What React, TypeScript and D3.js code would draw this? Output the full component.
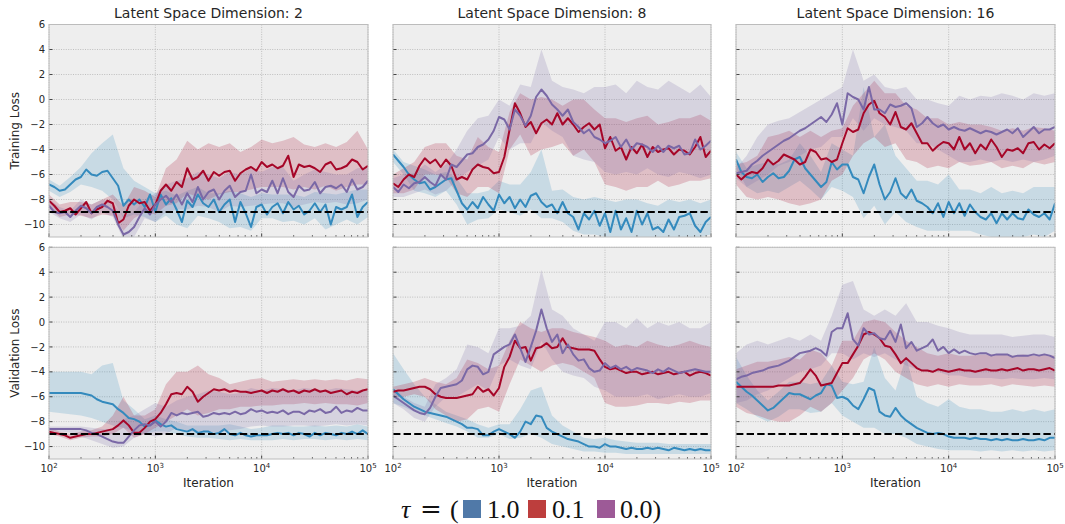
import React from 'react';
import * as d3 from 'd3';

// ---------- x grids (log10 of iteration) ----------
const LOG_ITER = [2.00,2.05,2.10,2.15,2.20,2.25,2.30,2.35,2.40,2.45,2.50,2.55,2.60,2.65,2.70,2.75,2.80,2.85,2.90,2.95,3.00,3.05,3.10,3.15,3.20,3.25,3.30,3.35,3.40,3.45,3.50,3.55,3.60,3.65,3.70,3.75,3.80,3.85,3.90,3.95,4.00,4.05,4.10,4.15,4.20,4.25,4.30,4.35,4.40,4.45,4.50,4.55,4.60,4.65,4.70,4.75,4.80,4.85,4.90,4.95,5.00];
const BAND_LOG_ITER = [2.0,2.1,2.2,2.3,2.4,2.5,2.6,2.7,2.8,2.9,3.0,3.1,3.2,3.3,3.4,3.5,3.6,3.7,3.8,3.9,4.0,4.1,4.2,4.3,4.4,4.5,4.6,4.7,4.8,4.9,5.0];

// ---------- Training loss, latent dim 2 ----------
const TRAIN_D2_T10 = [-6.8,-7.0,-7.3,-7.2,-6.8,-6.4,-6.2,-5.6,-6.0,-6.1,-5.8,-5.7,-6.3,-6.9,-8.5,-8.0,-8.4,-8.0,-8.6,-7.6,-9.0,-7.6,-8.4,-7.9,-8.8,-9.8,-8.1,-8.6,-7.6,-8.3,-8.6,-8.0,-9.0,-8.4,-8.0,-9.8,-8.2,-9.1,-10.2,-8.6,-8.4,-9.2,-8.6,-8.3,-9.1,-8.2,-8.8,-8.5,-9.2,-8.9,-8.3,-9.0,-8.4,-10.0,-8.6,-8.8,-8.6,-7.6,-9.4,-8.6,-8.2];
const TRAIN_D2_T10_LO = [-7.3,-7.8,-7.4,-6.8,-7.0,-7.3,-8.0,-9.5,-9.2,-9.4,-9.8,-9.3,-10.0,-10.3,-9.3,-9.5,-9.8,-10.3,-10.2,-10.5,-9.5,-9.5,-9.8,-9.7,-10.0,-9.5,-10.4,-10.0,-9.6,-10.0,-9.4];
const TRAIN_D2_T10_HI = [-6.4,-6.9,-6.2,-5.4,-4.3,-3.5,-2.8,-5.5,-6.5,-7.0,-7.5,-7.3,-7.7,-7.3,-7.0,-7.5,-7.5,-7.3,-7.5,-7.8,-7.5,-7.6,-7.6,-7.6,-7.8,-7.4,-7.5,-7.6,-7.4,-7.2,-7.2];
const TRAIN_D2_T01 = [-8.1,-8.5,-9.0,-8.9,-8.7,-9.2,-8.7,-8.2,-9.1,-8.8,-8.6,-8.1,-8.3,-9.9,-9.6,-8.5,-8.0,-8.3,-8.2,-8.9,-8.4,-7.3,-6.8,-7.3,-6.6,-7.0,-5.5,-6.4,-6.2,-5.7,-6.5,-5.8,-6.1,-5.8,-5.7,-6.5,-5.9,-5.6,-5.4,-5.7,-5.0,-5.4,-5.2,-5.5,-5.3,-4.5,-6.2,-5.2,-5.4,-5.3,-5.5,-5.8,-5.2,-5.0,-5.6,-5.5,-5.3,-4.8,-5.0,-5.6,-5.3];
const TRAIN_D2_T01_LO = [-8.7,-9.4,-9.2,-9.3,-9.5,-9.2,-9.3,-10.5,-9.5,-9.0,-9.2,-8.5,-8.3,-7.5,-7.8,-8.0,-7.6,-7.4,-7.4,-7.2,-7.0,-7.0,-7.0,-7.2,-7.0,-7.2,-6.9,-7.3,-7.0,-6.8,-6.8];
const TRAIN_D2_T01_HI = [-7.6,-8.4,-8.2,-8.2,-8.4,-8.0,-7.6,-8.5,-7.0,-7.3,-7.8,-5.5,-4.8,-3.3,-4.0,-3.5,-3.8,-3.5,-4.2,-3.8,-3.2,-3.5,-3.3,-3.0,-3.6,-3.8,-3.5,-3.8,-3.4,-2.5,-4.0];
const TRAIN_D2_T00 = [-8.5,-9.0,-9.1,-9.0,-9.4,-8.9,-8.5,-8.7,-9.1,-8.6,-8.4,-8.6,-8.9,-10.0,-10.8,-10.6,-10.2,-9.4,-8.7,-9.2,-8.4,-8.0,-7.7,-8.2,-7.6,-8.4,-7.5,-8.2,-7.0,-8.0,-7.4,-7.2,-8.0,-7.3,-6.9,-7.8,-7.4,-7.3,-6.0,-7.5,-7.2,-7.4,-6.5,-7.5,-6.3,-7.4,-7.8,-6.9,-7.3,-7.2,-6.6,-7.5,-7.0,-6.9,-7.1,-6.8,-7.4,-6.4,-7.2,-7.0,-6.5];
const TRAIN_D2_T00_LO = [-9.0,-9.5,-9.8,-9.2,-9.6,-9.0,-9.4,-11.2,-11.0,-9.5,-9.8,-9.0,-8.8,-8.8,-8.5,-8.6,-9.0,-8.5,-8.6,-8.5,-8.4,-8.3,-8.3,-8.6,-8.4,-8.2,-8.3,-8.2,-8.4,-8.3,-8.0];
const TRAIN_D2_T00_HI = [-8.0,-8.6,-8.9,-8.0,-8.4,-8.0,-8.3,-9.3,-9.0,-8.0,-7.5,-6.8,-6.5,-6.3,-5.8,-6.0,-6.3,-5.8,-6.0,-5.5,-5.8,-5.4,-5.4,-6.5,-6.0,-5.6,-5.8,-6.0,-6.0,-5.5,-5.4];

// ---------- Training loss, latent dim 8 ----------
const TRAIN_D8_T10 = [-4.4,-4.9,-5.4,-6.0,-6.4,-6.7,-6.6,-7.2,-7.0,-6.7,-6.4,-6.3,-7.3,-8.3,-8.8,-8.2,-8.7,-7.8,-8.4,-8.9,-7.6,-8.3,-7.8,-8.7,-8.0,-8.6,-7.7,-7.5,-8.2,-8.6,-8.4,-9.1,-8.2,-9.1,-9.4,-10.4,-9.1,-9.6,-8.9,-10.1,-9.1,-10.6,-8.9,-10.4,-9.5,-10.6,-8.9,-10.0,-9.1,-10.4,-10.2,-10.6,-9.6,-10.4,-9.4,-9.3,-9.1,-10.1,-10.6,-9.8,-9.4];
const TRAIN_D8_T10_LO = [-5.0,-6.0,-7.3,-7.5,-7.8,-7.3,-8.4,-10.0,-9.6,-9.5,-8.8,-9.0,-9.3,-8.8,-9.5,-9.5,-9.8,-10.5,-10.8,-10.8,-11.0,-11.0,-11.0,-11.0,-11.0,-11.0,-11.0,-11.0,-11.0,-11.0,-10.8];
const TRAIN_D8_T10_HI = [-4.0,-5.0,-5.3,-5.6,-6.0,-5.8,-6.3,-7.5,-7.5,-7.3,-6.5,-6.8,-6.8,-5.8,-4.0,-7.3,-7.2,-7.8,-8.0,-7.8,-8.0,-8.2,-8.0,-8.0,-8.3,-8.5,-8.0,-8.2,-8.0,-8.3,-8.0];
const TRAIN_D8_T01 = [-6.7,-7.0,-6.4,-6.0,-6.2,-5.3,-4.7,-5.1,-4.8,-5.4,-4.8,-5.3,-6.4,-6.2,-6.4,-5.6,-5.2,-5.4,-5.5,-5.9,-5.8,-4.6,-2.4,-0.3,-1.1,-2.2,-1.8,-2.7,-1.9,-1.6,-2.0,-1.1,-2.0,-1.5,-2.0,-2.6,-2.2,-1.9,-2.4,-2.0,-3.9,-3.0,-4.1,-3.8,-4.8,-3.8,-4.3,-3.6,-4.6,-3.8,-4.2,-4.0,-3.9,-4.4,-4.0,-4.1,-4.4,-3.8,-3.0,-4.6,-4.1];
const TRAIN_D8_T01_LO = [-7.5,-7.5,-7.2,-6.0,-6.0,-6.2,-7.5,-7.8,-7.0,-7.0,-7.5,-4.0,-2.8,-4.5,-4.0,-3.8,-3.5,-4.5,-4.0,-5.0,-6.8,-7.0,-7.3,-7.0,-7.0,-6.5,-7.0,-6.8,-6.5,-6.5,-6.3];
const TRAIN_D8_T01_HI = [-6.0,-5.5,-5.0,-3.8,-3.5,-3.5,-4.5,-4.8,-3.0,-3.8,-4.2,-1.0,0.5,0.0,0.2,0.0,-0.5,0.0,0.0,-0.8,-1.5,-1.5,-1.8,-1.5,-1.3,-2.0,-1.8,-1.5,-1.5,-1.2,-1.7];
const TRAIN_D8_T00 = [-7.0,-7.4,-6.8,-7.1,-6.7,-6.6,-6.2,-6.6,-6.9,-6.0,-6.4,-5.2,-5.4,-4.9,-4.4,-4.3,-3.8,-3.6,-3.2,-2.5,-1.4,-1.6,-2.4,-0.8,-1.3,-2.1,-1.3,0.2,0.8,0.3,-0.4,-0.8,-1.3,-0.8,-1.8,-2.2,-2.7,-2.4,-3.0,-3.2,-3.5,-3.3,-3.0,-3.8,-3.2,-4.0,-3.5,-3.6,-3.8,-4.2,-3.7,-4.2,-3.7,-3.9,-3.7,-4.4,-4.3,-3.2,-4.0,-3.7,-3.3];
const TRAIN_D8_T00_LO = [-7.8,-7.8,-7.5,-7.2,-7.6,-7.3,-6.5,-5.8,-5.3,-4.8,-3.0,-4.0,-3.5,-3.5,-1.8,-2.5,-3.0,-4.5,-4.8,-5.0,-5.8,-6.0,-5.8,-6.0,-5.5,-6.0,-6.2,-5.8,-6.0,-6.3,-6.0];
const TRAIN_D8_T00_HI = [-6.3,-6.0,-5.9,-5.2,-5.8,-5.2,-4.0,-2.5,-1.5,-1.3,0.0,-0.5,1.2,1.0,4.0,1.5,1.0,0.8,0.5,1.0,1.0,1.2,0.5,1.5,1.0,0.8,1.5,1.0,0.5,1.2,0.2];

// ---------- Training loss, latent dim 16 ----------
const TRAIN_D16_T10 = [-4.8,-5.8,-6.2,-6.3,-6.0,-6.6,-6.2,-5.9,-6.3,-6.2,-5.7,-4.8,-4.6,-5.5,-6.0,-6.5,-7.0,-6.6,-5.0,-5.6,-5.2,-5.2,-6.2,-6.4,-7.5,-6.2,-5.2,-6.8,-8.0,-7.4,-6.3,-7.5,-7.9,-7.2,-8.1,-8.3,-8.6,-9.1,-8.3,-9.4,-8.2,-9.1,-8.3,-9.3,-8.4,-9.0,-9.4,-9.6,-9.1,-9.9,-9.1,-9.6,-9.1,-9.5,-9.6,-8.8,-9.2,-9.4,-9.1,-9.6,-8.3];
const TRAIN_D16_T10_LO = [-5.5,-7.0,-7.5,-7.3,-7.5,-7.0,-6.5,-7.2,-8.0,-7.0,-7.3,-7.8,-9.5,-8.5,-10.0,-9.0,-9.8,-10.2,-10.5,-10.5,-10.5,-10.5,-10.5,-10.8,-11.0,-11.0,-11.0,-11.0,-10.8,-11.0,-10.5];
const TRAIN_D16_T10_HI = [-4.2,-5.5,-5.2,-5.0,-5.2,-4.8,-3.5,-4.5,-5.8,-3.5,-4.0,-4.5,1.0,-3.0,-2.0,-4.5,-5.5,-6.5,-6.5,-6.8,-6.0,-7.2,-7.2,-7.5,-7.0,-7.5,-7.3,-7.5,-7.0,-7.0,-7.0];
const TRAIN_D16_T01 = [-6.0,-6.4,-6.0,-5.8,-5.9,-5.5,-4.8,-5.2,-4.9,-4.4,-4.6,-4.8,-5.2,-5.0,-4.0,-4.2,-4.8,-4.7,-5.0,-4.8,-3.5,-2.3,-2.6,-2.4,-1.1,-0.4,-0.1,-1.1,-1.4,-2.0,-1.0,-2.2,-2.4,-1.9,-2.7,-3.5,-3.5,-4.1,-3.7,-3.4,-3.5,-4.0,-3.0,-4.0,-3.5,-4.3,-3.6,-4.0,-3.2,-3.8,-4.6,-4.0,-4.1,-3.9,-4.3,-3.5,-3.4,-4.0,-3.6,-3.9,-3.5];
const TRAIN_D16_T01_LO = [-6.8,-7.8,-8.0,-7.8,-8.0,-8.3,-8.5,-8.3,-8.0,-6.5,-6.0,-4.5,-3.5,-3.0,-3.8,-3.5,-4.8,-5.0,-5.5,-5.3,-5.5,-5.0,-5.3,-5.2,-5.0,-5.5,-5.3,-5.5,-5.0,-5.2,-5.0];
const TRAIN_D16_T01_HI = [-5.2,-5.0,-4.5,-3.0,-2.8,-2.5,-3.0,-2.5,-3.0,-2.5,-2.3,-0.5,0.5,1.5,0.5,0.5,-0.5,-0.8,-1.5,-1.5,-2.0,-1.8,-2.0,-2.0,-2.2,-2.5,-2.3,-2.5,-2.2,-2.3,-2.5];
const TRAIN_D16_T00 = [-5.9,-5.8,-5.7,-5.2,-4.9,-4.5,-4.2,-3.9,-3.6,-3.3,-3.1,-2.8,-2.5,-2.3,-2.0,-1.7,-1.4,-1.8,-1.2,-0.3,-2.0,0.5,0.2,0.0,-0.8,1.0,-0.8,-0.8,-1.1,-0.4,-0.6,-0.5,-0.3,-0.7,-2.2,-1.9,-1.4,-1.9,-2.2,-2.0,-2.4,-2.2,-2.4,-2.5,-2.3,-2.5,-2.7,-2.5,-2.6,-2.8,-2.6,-2.4,-2.7,-2.3,-3.0,-2.6,-2.2,-2.7,-2.4,-2.4,-2.2];
const TRAIN_D16_T00_LO = [-6.3,-7.0,-6.5,-6.0,-5.3,-5.0,-4.5,-4.0,-3.8,-3.0,-3.0,-1.5,-2.5,-1.5,-2.0,-2.2,-2.5,-3.5,-3.5,-4.0,-4.5,-5.0,-5.0,-4.8,-5.0,-4.8,-5.0,-4.8,-5.0,-4.8,-4.5];
const TRAIN_D16_T00_HI = [-5.5,-4.5,-3.0,-2.0,-1.7,-1.5,-1.0,-0.5,0.0,0.5,1.0,4.0,1.5,2.0,1.0,0.8,1.0,0.0,0.0,-0.3,-0.5,0.3,0.0,0.3,0.2,0.5,0.3,0.0,0.5,0.3,0.5];

// ---------- Validation loss, latent dim 2 ----------
const VAL_D2_T10 = [-5.7,-5.7,-5.7,-5.7,-5.7,-5.7,-5.7,-5.8,-5.9,-6.2,-6.4,-6.5,-6.6,-7.0,-7.3,-7.7,-7.8,-8.0,-8.4,-8.3,-7.9,-8.2,-8.4,-8.3,-8.6,-8.7,-8.8,-8.6,-8.9,-8.8,-8.8,-9.0,-8.9,-8.6,-9.0,-9.1,-8.9,-9.1,-9.2,-9.1,-9.1,-9.1,-9.0,-8.9,-9.0,-8.9,-9.1,-8.9,-9.0,-9.2,-8.9,-9.1,-8.9,-9.0,-9.1,-8.9,-9.0,-8.8,-9.0,-8.7,-9.0];
const VAL_D2_T10_LO = [-7.2,-7.3,-7.4,-7.5,-7.7,-8.0,-8.3,-8.5,-8.8,-9.0,-8.8,-8.8,-9.0,-9.2,-9.3,-9.3,-9.4,-9.5,-9.4,-9.5,-9.5,-9.5,-9.4,-9.5,-9.4,-9.4,-9.5,-9.4,-9.5,-9.4,-9.5];
const VAL_D2_T10_HI = [-4.0,-4.0,-4.0,-4.0,-4.2,-3.5,-3.3,-6.3,-7.0,-7.8,-7.5,-7.8,-8.0,-8.3,-8.3,-8.3,-8.3,-8.2,-8.4,-8.6,-8.5,-8.3,-8.3,-8.4,-8.4,-8.3,-8.4,-8.3,-8.4,-8.2,-8.4];
const VAL_D2_T01 = [-8.8,-8.9,-9.0,-9.1,-9.3,-9.2,-9.1,-9.0,-9.0,-8.9,-8.8,-8.7,-8.6,-8.3,-7.9,-8.3,-8.9,-8.9,-8.5,-8.0,-7.8,-7.3,-6.6,-5.8,-5.7,-5.8,-5.2,-5.6,-6.4,-6.0,-5.7,-5.4,-5.5,-5.4,-5.6,-5.5,-5.6,-5.6,-5.7,-5.6,-5.5,-5.7,-5.5,-5.6,-5.4,-5.6,-5.5,-5.7,-5.5,-5.6,-5.4,-5.6,-5.5,-5.7,-5.6,-5.5,-5.8,-5.6,-5.7,-5.5,-5.4];
const VAL_D2_T01_LO = [-9.0,-9.2,-9.5,-9.3,-9.2,-9.2,-9.0,-8.5,-9.3,-9.0,-8.5,-8.0,-7.5,-7.0,-7.5,-7.3,-7.0,-7.0,-6.8,-6.8,-6.7,-6.7,-6.6,-6.6,-6.5,-6.6,-6.5,-6.6,-6.6,-6.7,-6.5];
const VAL_D2_T01_HI = [-8.5,-8.8,-9.0,-8.8,-8.7,-8.4,-7.5,-6.0,-7.5,-7.5,-7.0,-5.0,-4.0,-4.0,-3.5,-4.2,-4.5,-5.0,-4.8,-4.6,-4.5,-4.8,-4.7,-4.6,-4.7,-4.6,-4.7,-4.6,-4.7,-4.5,-4.6];
const VAL_D2_T00 = [-8.6,-8.6,-8.6,-8.6,-8.6,-8.6,-8.6,-8.7,-8.9,-9.0,-9.2,-9.4,-9.6,-9.7,-9.7,-9.2,-8.7,-8.3,-8.2,-8.3,-8.0,-8.4,-8.0,-7.3,-7.5,-7.3,-7.4,-7.3,-7.2,-7.6,-7.5,-7.3,-7.4,-7.3,-7.4,-7.2,-7.4,-7.3,-7.0,-7.2,-7.1,-7.3,-7.2,-7.3,-7.1,-7.4,-7.2,-7.2,-7.4,-7.1,-7.2,-7.0,-7.3,-7.2,-6.8,-7.3,-7.1,-7.2,-6.9,-7.1,-7.1];
const VAL_D2_T00_LO = [-8.8,-8.8,-8.9,-9.2,-9.5,-9.8,-10.1,-10.0,-9.3,-9.0,-9.2,-9.0,-8.5,-8.8,-8.8,-8.8,-8.9,-8.7,-8.6,-8.4,-8.3,-8.4,-8.4,-8.3,-8.3,-8.4,-8.3,-8.2,-8.3,-8.2,-8.3];
const VAL_D2_T00_HI = [-8.4,-8.4,-8.4,-8.4,-8.5,-8.6,-8.6,-7.8,-7.5,-7.0,-6.5,-6.8,-6.3,-6.0,-5.8,-5.5,-5.6,-5.8,-5.7,-5.3,-5.5,-5.3,-5.4,-5.5,-5.3,-5.4,-5.5,-5.3,-5.4,-5.5,-5.4];

// ---------- Validation loss, latent dim 8 ----------
const VAL_D8_T10 = [-5.4,-5.8,-6.2,-6.5,-6.8,-7.0,-7.2,-7.3,-7.4,-7.5,-7.6,-7.8,-8.0,-8.2,-8.5,-8.5,-8.6,-9.1,-9.1,-8.8,-8.6,-8.8,-9.0,-9.3,-8.8,-8.0,-8.2,-7.5,-7.6,-8.5,-8.8,-9.0,-9.2,-9.4,-9.5,-9.6,-9.8,-10.0,-10.0,-10.1,-9.8,-10.0,-10.0,-10.1,-10.2,-10.1,-10.2,-10.2,-10.1,-10.2,-10.1,-10.2,-10.3,-10.1,-10.2,-10.3,-10.2,-10.3,-10.2,-10.3,-10.3];
const VAL_D8_T10_LO = [-6.5,-6.8,-7.2,-7.5,-7.8,-8.1,-8.4,-8.8,-9.3,-9.3,-9.0,-9.4,-9.3,-9.0,-9.3,-9.8,-10.0,-10.2,-10.4,-10.4,-10.5,-10.5,-10.6,-10.6,-10.6,-10.6,-10.6,-10.6,-10.6,-10.6,-10.6];
const VAL_D8_T10_HI = [-2.5,-3.8,-5.0,-6.0,-6.6,-7.2,-7.5,-7.8,-8.2,-8.5,-8.2,-8.2,-7.0,-5.5,-5.2,-7.5,-8.3,-8.8,-9.3,-9.4,-9.3,-9.5,-9.6,-9.7,-9.7,-9.7,-9.8,-9.8,-9.8,-9.8,-9.8];
const VAL_D8_T01 = [-5.6,-5.5,-5.5,-5.4,-5.3,-5.2,-5.2,-5.4,-5.8,-6.0,-6.1,-6.1,-6.1,-6.0,-5.9,-5.8,-5.2,-5.6,-5.4,-5.9,-5.3,-3.6,-2.8,-1.5,-2.1,-2.0,-3.1,-2.1,-2.0,-1.7,-2.1,-2.0,-1.3,-2.0,-2.1,-2.2,-2.2,-2.2,-2.3,-3.0,-3.6,-3.8,-3.7,-3.9,-4.1,-4.0,-4.0,-4.2,-4.1,-4.0,-4.2,-4.1,-4.0,-4.2,-4.1,-4.0,-4.3,-4.1,-4.0,-4.1,-4.3];
const VAL_D8_T01_LO = [-6.0,-6.0,-5.8,-6.0,-7.0,-7.5,-8.0,-7.8,-7.0,-6.8,-7.2,-5.0,-3.0,-3.5,-4.0,-3.5,-3.3,-3.5,-4.0,-4.5,-6.5,-6.8,-6.8,-6.7,-6.5,-6.5,-6.6,-6.4,-6.5,-6.3,-6.3];
const VAL_D8_T01_HI = [-5.2,-5.0,-4.8,-4.5,-4.8,-5.0,-4.5,-3.0,-3.3,-3.8,-3.5,-1.5,0.0,-0.5,-0.8,-0.5,-0.5,-0.8,-1.0,-1.2,-1.5,-2.0,-1.8,-2.0,-1.5,-1.8,-2.0,-1.8,-1.5,-1.8,-2.0];
const VAL_D8_T00 = [-5.9,-6.2,-6.5,-6.8,-7.1,-7.3,-7.4,-6.9,-6.0,-5.3,-5.2,-5.1,-5.0,-4.7,-3.8,-3.5,-3.6,-4.2,-4.0,-2.6,-2.3,-2.0,-1.8,-1.0,-2.1,-3.2,-2.0,-0.7,1.0,-0.5,-1.6,-1.0,-2.5,-1.8,-2.6,-3.1,-3.0,-3.7,-4.0,-3.9,-3.3,-3.7,-3.5,-3.8,-3.6,-3.9,-3.7,-3.8,-3.9,-4.1,-3.8,-4.0,-3.7,-3.9,-4.1,-4.0,-3.9,-3.8,-3.9,-4.0,-4.0];
const VAL_D8_T00_LO = [-6.5,-7.0,-7.7,-8.0,-6.8,-6.0,-6.0,-5.5,-5.0,-5.5,-3.5,-3.0,-3.5,-3.8,-1.5,-3.0,-4.0,-4.3,-4.5,-5.2,-5.5,-6.0,-6.0,-6.0,-5.8,-6.2,-6.0,-5.8,-6.0,-6.0,-5.7];
const VAL_D8_T00_HI = [-5.3,-6.0,-6.5,-6.8,-5.0,-4.5,-3.8,-1.8,-2.0,-2.5,-0.5,-0.5,-0.3,0.5,4.2,1.0,0.5,-0.5,-1.0,-1.5,0.0,0.0,-0.5,0.3,-0.5,0.0,-0.3,0.0,-0.5,-0.5,0.0];

// ---------- Validation loss, latent dim 16 ----------
const VAL_D16_T10 = [-4.8,-5.2,-5.6,-5.9,-6.3,-6.7,-7.1,-6.9,-6.5,-6.1,-5.7,-5.8,-5.8,-6.0,-6.2,-5.9,-5.7,-5.0,-5.1,-6.1,-6.0,-6.2,-6.7,-7.0,-6.2,-5.3,-5.5,-7.2,-7.5,-7.6,-6.9,-7.5,-7.9,-8.2,-8.5,-8.7,-8.9,-9.0,-8.9,-9.0,-9.2,-9.3,-9.3,-9.3,-9.4,-9.3,-9.4,-9.4,-9.5,-9.4,-9.5,-9.4,-9.5,-9.5,-9.4,-9.5,-9.5,-9.4,-9.5,-9.3,-9.3];
const VAL_D16_T10_LO = [-6.5,-7.0,-7.6,-8.0,-7.6,-7.0,-7.0,-7.3,-7.2,-6.5,-7.5,-8.0,-8.5,-8.5,-9.0,-9.0,-9.3,-9.8,-10.0,-10.2,-10.3,-10.3,-10.3,-10.4,-10.3,-10.4,-10.3,-10.4,-10.3,-10.4,-10.3];
const VAL_D16_T10_HI = [-2.8,-4.3,-5.5,-6.3,-5.6,-4.8,-4.8,-5.0,-4.8,-3.5,-4.8,-5.0,-4.8,-2.0,-4.5,-5.5,-2.8,-6.0,-6.5,-6.8,-6.2,-6.8,-7.0,-7.0,-7.2,-7.2,-7.0,-7.2,-7.0,-7.2,-7.0];
const VAL_D16_T01 = [-5.2,-5.2,-5.2,-5.2,-5.2,-5.2,-5.2,-5.2,-5.1,-5.1,-5.1,-5.0,-4.9,-4.4,-3.8,-4.3,-5.1,-5.0,-4.9,-4.1,-3.3,-3.3,-2.6,-1.9,-1.0,-0.8,-1.0,-1.3,-1.9,-2.0,-2.6,-3.3,-2.9,-3.3,-3.7,-3.9,-3.9,-4.0,-3.8,-3.9,-4.0,-3.9,-3.8,-3.9,-3.9,-4.0,-3.9,-3.8,-3.9,-3.9,-3.8,-3.9,-3.8,-3.7,-3.9,-3.8,-3.8,-3.9,-3.8,-3.7,-3.9];
const VAL_D16_T01_LO = [-6.8,-7.3,-7.5,-7.8,-8.0,-8.0,-7.5,-6.8,-7.2,-6.5,-5.5,-4.5,-3.0,-2.5,-3.0,-4.0,-4.5,-5.0,-5.2,-5.0,-5.2,-5.0,-5.1,-5.1,-5.0,-5.2,-5.0,-5.1,-5.2,-5.1,-5.2];
const VAL_D16_T01_HI = [-3.8,-3.5,-3.2,-3.2,-3.0,-2.8,-3.0,-2.2,-2.5,-3.5,-1.5,-1.5,0.0,0.2,0.0,-0.8,-1.5,-2.0,-2.5,-2.7,-2.5,-2.7,-2.7,-2.6,-2.6,-2.6,-2.7,-2.6,-2.7,-2.6,-2.7];
const VAL_D16_T00 = [-4.6,-4.4,-4.3,-4.1,-4.0,-3.9,-3.7,-3.6,-3.5,-3.3,-3.1,-2.8,-2.5,-2.4,-2.3,-2.1,-2.3,-2.7,-0.8,-0.5,-0.5,0.7,-1.4,-1.9,-0.5,-1.0,-0.9,-1.3,-1.4,-0.7,-1.6,-0.2,-2.1,-1.6,-2.3,-2.1,-1.9,-1.4,-2.3,-2.0,-2.5,-2.2,-2.5,-2.3,-2.5,-2.6,-2.5,-2.5,-2.7,-2.6,-2.6,-2.6,-2.8,-2.7,-2.7,-2.7,-2.6,-2.7,-2.6,-2.7,-2.9];
const VAL_D16_T00_LO = [-6.5,-6.3,-5.8,-5.5,-5.0,-4.5,-4.0,-3.8,-3.5,-2.5,-2.5,-3.0,-2.5,-2.8,-2.5,-3.0,-3.5,-3.8,-4.0,-4.0,-4.3,-4.3,-4.5,-4.5,-4.5,-4.6,-4.5,-4.6,-4.6,-4.5,-4.6];
const VAL_D16_T00_HI = [-2.5,-1.8,-1.5,-1.8,-1.5,-1.2,-1.5,-1.0,-1.5,0.5,3.0,3.3,1.0,0.5,1.0,0.5,1.5,0.0,0.0,-0.3,-0.5,-0.8,-1.0,-1.0,-1.0,-1.0,-1.2,-1.1,-1.0,-1.0,-1.2];

// ---------- labels / ticks ----------
const LATENT_DIMS = [2, 8, 16];
const ROW_LABELS = ['Training Loss', 'Validation Loss'];
const TAU_LABELS = ['1.0', '0.1', '0.0'];
const Y_TICKS = [-10, -8, -6, -4, -2, 0, 2, 4, 6];
const X_TICK_EXPONENTS = [2, 3, 4, 5];
const MINOR_MULTIPLIERS = [2, 3, 4, 5, 6, 7, 8, 9];
const REFERENCE_LOSS = -9;

type Series = { mean: number[]; lo: number[]; hi: number[] };
const S = (mean: number[], lo: number[], hi: number[]): Series => ({ mean, lo, hi });

const PANEL_SERIES: Series[][][] = [
  [
    [S(TRAIN_D2_T10, TRAIN_D2_T10_LO, TRAIN_D2_T10_HI), S(TRAIN_D2_T01, TRAIN_D2_T01_LO, TRAIN_D2_T01_HI), S(TRAIN_D2_T00, TRAIN_D2_T00_LO, TRAIN_D2_T00_HI)],
    [S(TRAIN_D8_T10, TRAIN_D8_T10_LO, TRAIN_D8_T10_HI), S(TRAIN_D8_T01, TRAIN_D8_T01_LO, TRAIN_D8_T01_HI), S(TRAIN_D8_T00, TRAIN_D8_T00_LO, TRAIN_D8_T00_HI)],
    [S(TRAIN_D16_T10, TRAIN_D16_T10_LO, TRAIN_D16_T10_HI), S(TRAIN_D16_T01, TRAIN_D16_T01_LO, TRAIN_D16_T01_HI), S(TRAIN_D16_T00, TRAIN_D16_T00_LO, TRAIN_D16_T00_HI)],
  ],
  [
    [S(VAL_D2_T10, VAL_D2_T10_LO, VAL_D2_T10_HI), S(VAL_D2_T01, VAL_D2_T01_LO, VAL_D2_T01_HI), S(VAL_D2_T00, VAL_D2_T00_LO, VAL_D2_T00_HI)],
    [S(VAL_D8_T10, VAL_D8_T10_LO, VAL_D8_T10_HI), S(VAL_D8_T01, VAL_D8_T01_LO, VAL_D8_T01_HI), S(VAL_D8_T00, VAL_D8_T00_LO, VAL_D8_T00_HI)],
    [S(VAL_D16_T10, VAL_D16_T10_LO, VAL_D16_T10_HI), S(VAL_D16_T01, VAL_D16_T01_LO, VAL_D16_T01_HI), S(VAL_D16_T00, VAL_D16_T00_LO, VAL_D16_T00_HI)],
  ],
];

// ---------- styling / layout ----------
const W = 1065;
const H = 524;
const COL_X: [number, number][] = [[49, 368], [393, 711], [736, 1055]];
const ROW_Y: [number, number][] = [[24.5, 237], [247.3, 459]];
const LINE_COLORS = ['#348ABD', '#A60628', '#7A68A6'];
const LEGEND_COLORS = ['#5079a8', '#bd3e3d', '#9d5a97'];
const FONT = '"DejaVu Sans", sans-serif';
const TEXT = '#262626';

function Panel({ row, col }: { row: number; col: number }) {
  const [x0, x1] = COL_X[col];
  const [y0, y1] = ROW_Y[row];
  const x = d3.scaleLog().domain([1e2, 1e5]).range([x0, x1]);
  const y = d3.scaleLinear().domain([-11, 6]).range([y1, y0]);
  const clipId = `clip-${row}-${col}`;
  const series = PANEL_SERIES[row][col];

  const line = d3.line<number>()
    .x((_, i) => x(Math.pow(10, LOG_ITER[i])))
    .y((d) => y(d));

  const majors = X_TICK_EXPONENTS.map((e) => Math.pow(10, e));
  const minors: number[] = [];
  X_TICK_EXPONENTS.slice(0, -1).forEach((e) =>
    MINOR_MULTIPLIERS.forEach((m) => minors.push(m * Math.pow(10, e)))
  );

  return (
    <g>
      <defs>
        <clipPath id={clipId}>
          <rect x={x0} y={y0} width={x1 - x0} height={y1 - y0} />
        </clipPath>
      </defs>
      <rect x={x0} y={y0} width={x1 - x0} height={y1 - y0} fill="#eeeeee" />
      {majors.map((v) => (
        <line key={`gx${v}`} x1={x(v)} x2={x(v)} y1={y0} y2={y1} stroke="#b2b2b2" strokeWidth={0.8} strokeDasharray="1,1.4" />
      ))}
      {Y_TICKS.map((v) => (
        <line key={`gy${v}`} x1={x0} x2={x1} y1={y(v)} y2={y(v)} stroke="#b2b2b2" strokeWidth={0.8} strokeDasharray="1,1.4" />
      ))}
      <g clipPath={`url(#${clipId})`}>
        {series.map((s, k) => {
          const area = d3.area<number>()
            .x((_, i) => x(Math.pow(10, BAND_LOG_ITER[i])))
            .y0((_, i) => y(s.lo[i]))
            .y1((_, i) => y(s.hi[i]));
          return <path key={`b${k}`} d={area(s.lo) || ''} fill={LINE_COLORS[k]} fillOpacity={0.2} stroke="none" />;
        })}
        {series.map((s, k) => (
          <path key={`l${k}`} d={line(s.mean) || ''} fill="none" stroke={LINE_COLORS[k]} strokeWidth={2} strokeLinejoin="round" />
        ))}
        <line x1={x0} x2={x1} y1={y(REFERENCE_LOSS)} y2={y(REFERENCE_LOSS)} stroke="#000" strokeWidth={2} strokeDasharray="7.4,3.2" />
      </g>
      {majors.map((v) => (
        <line key={`tx${v}`} x1={x(v)} x2={x(v)} y1={y1} y2={y1 - 3.5} stroke="#333" strokeWidth={0.9} />
      ))}
      {minors.map((v) => (
        <line key={`mx${v}`} x1={x(v)} x2={x(v)} y1={y1} y2={y1 - 2} stroke="#333" strokeWidth={0.7} />
      ))}
      {Y_TICKS.map((v) => (
        <line key={`ty${v}`} x1={x0} x2={x0 + 3.5} y1={y(v)} y2={y(v)} stroke="#333" strokeWidth={0.9} />
      ))}
      <rect x={x0} y={y0} width={x1 - x0} height={y1 - y0} fill="none" stroke="#bcbcbc" strokeWidth={1} />
      {col === 0 && Y_TICKS.map((v) => (
        <text key={`ly${v}`} x={x0 - 4} y={y(v)} dy="0.36em" textAnchor="end" fontSize={10} fill={TEXT} fontFamily={FONT}>
          {v < 0 ? `\u2212${Math.abs(v)}` : `${v}`}
        </text>
      ))}
      {row === 1 && X_TICK_EXPONENTS.map((e) => (
        <text key={`lx${e}`} x={x(Math.pow(10, e))} y={472} textAnchor="middle" fontSize={10} fill={TEXT} fontFamily={FONT}>
          10<tspan dy={-4} fontSize={7}>{e}</tspan>
        </text>
      ))}
      {row === 0 && (
        <text x={(x0 + x1) / 2} y={18} textAnchor="middle" fontSize={14} fill={TEXT} fontFamily={FONT}>
          {`Latent Space Dimension: ${LATENT_DIMS[col]}`}
        </text>
      )}
      {row === 1 && (
        <text x={(x0 + x1) / 2} y={487} textAnchor="middle" fontSize={12} fill={TEXT} fontFamily={FONT}>
          Iteration
        </text>
      )}
      {col === 0 && (
        <text transform={`translate(18.5,${(y0 + y1) / 2}) rotate(-90)`} textAnchor="middle" fontSize={12} fill={TEXT} fontFamily={FONT}>
          {ROW_LABELS[row]}
        </text>
      )}
    </g>
  );
}

function Legend() {
  const serif = '"Liberation Serif", "Times New Roman", serif';
  const sq = [463, 528, 597];
  const lbl = [487, 552, 620];
  return (
    <g fill="#111">
      <text x={401} y={517.5} fontSize={26} fontFamily={serif} fontStyle="italic">τ</text>
      <text x={420} y={517.5} fontSize={26} fontFamily='"DejaVu Serif", serif'>=</text>
      <text x={450} y={517.5} fontSize={26} fontFamily={serif}>(</text>
      {TAU_LABELS.map((t, i) => (
        <g key={t}>
          <rect x={sq[i]} y={500} width={18} height={18} fill={LEGEND_COLORS[i]} />
          <text x={lbl[i]} y={517.5} fontSize={26} fontFamily={serif}>
            {i === TAU_LABELS.length - 1 ? `${t})` : t}
          </text>
        </g>
      ))}
    </g>
  );
}

export default function App() {
  return (
    <svg width={W} height={H} style={{ position: 'absolute', left: 0, top: 0, background: '#fff' }}>
      {[0, 1, 2].map((c) => <Panel key={`t${c}`} row={0} col={c} />)}
      {[0, 1, 2].map((c) => (
        <text key={`hid${c}`} x={(COL_X[c][0] + COL_X[c][1]) / 2} y={257} textAnchor="middle" fontSize={12} fill={TEXT} fontFamily={FONT}>
          Iteration
        </text>
      ))}
      {[0, 1, 2].map((c) => <Panel key={`b${c}`} row={1} col={c} />)}
      <Legend />
    </svg>
  );
}
